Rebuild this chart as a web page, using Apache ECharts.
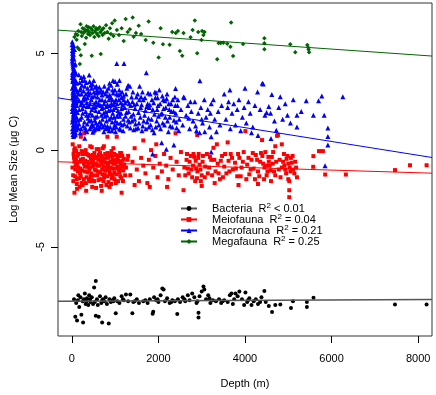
<!DOCTYPE html>
<html>
<head>
<meta charset="utf-8">
<script src="https://cdn.jsdelivr.net/npm/echarts@6/dist/echarts.min.js"></script>
<style>
  html, body { margin: 0; padding: 0; background: #fff; }
  #chart { width: 436px; height: 395px; }
</style>
</head>
<body>
<div id="chart"></div>
<script>
// groups and their fit statistics
const groups = ['Bacteria', 'Meiofauna', 'Macrofauna', 'Megafauna']
const r2Text = ['< 0.01', '= 0.04', '= 0.21', '= 0.25']
const colors = ['#000000', '#ff0000', '#0000ff', '#006400']
const symbols = ['circle', 'rect', 'triangle', 'diamond']

const xTicks = [0, 2000, 4000, 6000, 8000]
const yTicks = [-5, 0, 5]

// [depth (m), log mean size]
const bacteria = [
  [50,-7.7],[80,-8.6],[100,-7.9],[120,-8.8],[150,-7.5],[170,-8.1],[200,-7.6],[220,-8.5],[250,-7.8],[260,-8.9],
  [300,-7.4],[320,-7.95],[350,-7.65],[380,-8.0],[400,-7.5],[430,-7.85],[460,-7.6],[490,-7.95],[514,-7.09],[553,-6.76],
  [553,-8.55],[580,-7.7],[600,-8.0],[620,-8.6],[650,-7.55],[680,-7.9],[700,-8.9],[720,-7.7],[750,-7.8],[780,-7.6],
  [810,-7.95],[853,-8.95],[870,-7.7],[900,-7.85],[940,-7.75],[980,-7.65],[1014,-8.43],[1050,-7.8],[1100,-7.9],[1150,-7.55],
  [1200,-7.75],[1250,-7.45],[1300,-7.8],[1350,-7.45],[1398,-8.43],[1420,-7.85],[1500,-7.7],[1550,-7.9],[1650,-7.8],[1750,-7.9],
  [1800,-7.7],[1866,-8.45],[1880,-8.35],[1900,-7.6],[1950,-7.75],[2000,-7.85],[2050,-7.5],[2090,-7.15],[2120,-7.2],[2150,-7.8],
  [2200,-7.65],[2260,-7.9],[2320,-7.75],[2380,-7.8],[2435,-8.47],[2450,-7.7],[2500,-7.85],[2560,-7.6],[2620,-7.8],[2680,-7.5],
  [2720,-7.75],[2780,-7.4],[2830,-7.6],[2880,-7.9],[2926,-8.4],[2926,-8.65],[2950,-7.55],[3000,-7.3],[3041,-7.04],[3060,-7.2],
  [3100,-7.7],[3150,-7.5],[3200,-7.9],[3260,-7.75],[3330,-7.8],[3400,-7.7],[3450,-7.9],[3520,-7.75],[3600,-7.85],[3650,-7.5],
  [3687,-7.41],[3720,-7.95],[3780,-7.4],[3830,-7.55],[3870,-7.3],[3930,-7.7],[3980,-8.0],[4010,-7.35],[4050,-7.85],[4100,-7.65],
  [4150,-8.0],[4200,-7.8],[4250,-7.7],[4300,-7.95],[4380,-7.6],[4447,-7.28],[4480,-7.85],[4550,-8.05],[4625,-8.36],[4700,-8.0],
  [4816,-7.97],[5062,-8.16],[5108,-7.8],[5430,-8.1],[5430,-7.85],[5583,-7.62],[7465,-7.97],[8195,-7.97],
  [140,-7.75],[280,-7.7],[340,-7.8],[420,-7.7],[530,-7.85],[700,-7.75],[960,-7.8],[1180,-7.7],[1450,-7.8],[1700,-7.75],
  [1980,-7.7],[2300,-7.85],[2600,-7.7],[2900,-7.8],[3180,-7.65],[3480,-7.8],[3750,-7.7],[4070,-7.75],[4350,-7.85]
]

const meiofauna = [
  [20,0.3],[40,-0.2],[60,-0.6],[80,-1.0],[30,-1.3],[50,-0.4],[70,0.1],[90,-0.8],[110,-1.5],[130,-0.3],
  [150,-0.9],[170,0.2],[190,-1.2],[210,-0.5],[230,-1.7],[246,-1.81],[260,-0.1],[280,-0.7],[300,-1.1],[320,0.0],
  [340,-1.4],[360,-0.6],[380,-0.25],[400,-1.0],[420,-1.6],[440,-0.45],[460,0.15],[480,-0.85],[500,-1.3],[520,-0.15],
  [540,-0.7],[560,-1.95],[580,-0.35],[600,-1.1],[620,0.05],[640,-0.8],[660,-1.5],[680,-0.3],[700,-1.0],[720,-0.55],
  [740,0.2],[760,-1.25],[780,-0.65],[800,-1.8],[822,0.69],[840,-0.4],[860,-1.05],[880,-0.2],[900,-0.9],[920,-1.45],
  [940,-0.5],[960,0.1],[980,-1.15],[1000,-0.7],[1014,-1.7],[1037,0.69],[1060,-0.35],[1080,-1.0],[1100,-0.6],[1120,-1.35],
  [1140,-0.15],[1160,-0.85],[1180,-1.6],[1200,-0.45],[207,0.69],[284,0.87],[100,-0.05],[140,-1.1],[200,-0.95],[240,-0.2],
  [310,-0.55],[350,-0.85],[410,-0.3],[450,-1.2],[490,-0.5],[530,-1.0],[570,-0.75],[610,-0.5],[650,-0.15],[690,-0.7],
  [730,-1.6],[770,-0.2],[810,-0.9],[850,-0.65],[890,-1.25],[930,-0.3],[970,-0.55],[1010,-0.25],[1050,-0.85],[1090,-0.3],
  [1130,-0.75],[1170,-0.55],[60,-2.2],[120,-2.0],[180,-1.9],[330,-2.1],[470,-1.9],[690,-2.1],[870,-1.9],[1150,-2.2],
  [1250,-0.9],[1300,-0.3],[1350,-1.3],[1400,-0.6],[1450,0.1],[1500,-1.0],[1550,-1.6],[1600,-0.4],[1650,-0.8],[1700,-1.2],
  [1744,-1.7],[1780,-0.5],[1830,0.0],[1880,-0.9],[1930,-0.3],[1980,-1.4],[2030,-0.7],[2080,-1.1],[2130,-0.2],[2180,-0.8],
  [2230,-1.5],[2280,-0.4],[2330,-1.0],[2396,0.87],[2420,-0.6],[2470,-1.3],[2520,-0.1],[2580,-2.07],[2600,-0.9],[2650,-0.5],
  [2700,-1.2],[2750,-0.3],[2800,-0.8],[2850,-1.6],[2896,0.78],[2920,-0.4],[2970,-1.0],[3020,-0.6],[3070,-1.4],[3120,-0.2],
  [3170,-0.9],[3220,-0.5],[3272,0.12],[3320,-1.1],[3370,-0.7],[3420,-1.5],[3470,-0.3],[3520,-0.85],[3570,-1.2],[3620,-0.55],
  [3670,-0.2],[3720,-1.0],[3770,-0.65],[3820,-1.35],[3870,-0.4],[3920,-0.9],[3970,-0.1],[4009,0.98],[4050,-0.75],[4100,-1.25],
  [4150,-0.5],[4200,-0.95],[4250,-0.25],[4300,-1.1],[4350,-0.6],[4394,0.52],[4440,-1.5],[4490,-0.8],[4540,-0.35],[4590,-1.05],
  [4640,-0.7],[4700,-1.3],[4740,0.74],[4760,0.78],[4800,-0.5],[4850,-0.9],[4900,-0.2],[4950,-1.2],[5000,-0.7],[5023,-2.07],
  [5023,-2.43],[5023,-1.6],[5060,-0.4],[5110,-1.0],[5160,-0.6],[5200,-1.4],[5576,-0.86],[5580,-0.31],[5710,-0.05],[5800,-0.05],
  [5852,-1.26],[6330,-1.26],[7465,-1.03],[7811,-0.78],[8195,-0.78],
  [2760,-1.0],[2810,-0.2],[2860,-0.55],[2900,-1.1],[2950,-0.75],[3000,-1.3],[4400,-0.3],[4450,-0.9],[4500,-1.3],[4550,-0.6],
  [4600,-1.6],[4650,-0.1],[4910,-0.8],[4960,-0.45],[5000,-1.5],[5050,-1.1],[5100,-0.3],[4850,0.3],[4700,0.2],[3600,0.4],
  [3350,0.3],[1950,0.3],[1650,0.5],[1450,-1.8],[1800,-1.9],[2200,-1.9],[3000,-1.85],[3300,-1.7],[3850,-1.8],[4300,-1.75],
  [15,-0.9],[35,-1.6],[55,0.0],[75,-1.35],[95,-0.5],[115,-1.75],[125,-0.7],[145,-0.2],[165,-1.45],[185,-0.6],
  [205,-1.35],[225,-0.05],[235,-1.05],[255,-0.45],[275,-1.5],[295,-0.2],[305,-0.85],[325,-1.7],[345,-0.2],[365,-1.15],
  [385,-0.7],[395,-1.5],[415,-0.9],[425,0.2],[435,-1.35],[455,-0.65],[465,-1.55],[485,-0.25],[505,-0.75],[515,-1.6],
  [535,-0.4],[555,-1.05],[575,0.05],[585,-1.3],[595,-0.8],[615,-1.55],[625,-0.25],[645,-1.15],[665,-0.55],[675,-1.85],
  [695,-0.35],[705,-1.25],[715,0.1],[735,-0.85],[745,-1.4],[755,-0.45],[775,-1.05],[795,-0.35],[815,-1.35],[825,-0.15],
  [835,-0.75],[845,-1.65],[865,-0.3],[875,-1.2],[895,-0.6],[905,-1.75],[915,-0.05],[925,-0.95],[945,-1.3],[955,-0.7],
  [975,-0.2],[985,-1.5],[995,-0.95],[1025,-0.5],[1035,-1.25],[1065,-1.6],[1075,-0.55],[1095,-1.15],[1115,-0.15],[1125,-0.95],
  [1145,-1.45],[1165,-0.3],[1185,-1.05],[1210,-0.75],[1230,-1.3],[1280,-0.5],
  [2620,-1.3],[2660,-0.2],[2680,-0.95],[2720,-0.6],[2780,-1.4],[2830,-0.35],[2870,-0.95],[2890,-1.45],[2930,-0.2],[2980,-1.6],
  [3030,-0.3],[3080,-0.85],[3140,-1.2],[3190,-0.35],[3240,-1.3],[3290,-0.5],[3390,-1.2],[3440,-0.55],[3490,-1.4],[3540,-0.2],
  [3640,-1.1],[3700,-0.4],[3790,-0.95],[3840,-0.2],[3900,-1.35],[3950,-0.6],[4030,-1.5],[4080,-0.4],[4130,-1.0],[4180,-0.15],
  [4230,-1.5],[4280,-0.5],[4330,-1.35],[4370,-0.15],[4420,-0.7],[4470,-0.1],[4520,-1.1],[4570,-0.8],[4620,-0.35],[4670,-1.1],
  [4720,-0.6],[4780,-1.0],[4820,-1.4],[4880,-0.6],[4930,-1.0],[4980,-0.3],[5030,-0.9],[5080,-0.65],[5140,-1.2],[5180,-0.9]
]

const macrofauna = [
  [10,5.6],[20,5.3],[15,5.0],[30,4.8],[10,4.6],[25,4.4],[40,4.2],[15,4.0],[35,3.85],[55,3.7],
  [20,3.55],[45,3.4],[70,3.3],[10,3.2],[30,3.05],[60,2.9],[85,2.8],[15,2.7],[40,2.6],[75,2.5],
  [100,2.45],[25,2.35],[55,2.2],[90,2.1],[10,2.0],[45,1.9],[80,1.8],[110,1.7],[20,1.6],[60,1.5],
  [95,1.4],[30,1.3],[70,1.2],[15,1.1],[50,1.0],[85,0.9],[25,0.8],[40,0.7],[60,5.2],[50,4.7],
  [70,4.1],[90,3.6],[100,3.1],[120,2.75],[115,2.3],[130,1.95],[120,1.25],[105,1.05],[65,0.85],[35,4.95],
  [80,4.45],[95,3.95],[110,3.45],[125,3.0],[140,2.55],[135,1.55],[145,1.15],
  [5,5.45],[12,5.15],[22,4.9],[8,4.75],[18,4.5],[28,4.3],[38,4.05],[48,3.9],[12,3.75],[28,3.65],
  [62,3.5],[38,3.3],[80,3.15],[22,2.95],[50,2.75],[70,2.65],[95,2.55],[32,2.45],[65,2.3],[12,2.15],
  [82,2.0],[38,1.85],[100,1.95],[55,1.7],[75,1.55],[12,1.45],[88,1.3],[42,1.15],[105,1.2],[62,1.05],
  [18,0.95],[78,0.8],[52,0.75],[32,1.75],[45,2.05],[58,2.5],[28,2.85],[88,3.2],[45,3.55],[18,3.9],
  [65,4.4],[42,5.4],[28,5.1],
  [160,3.9],[180,3.5],[200,3.2],[220,2.9],[240,3.6],[260,2.6],[280,2.3],[300,3.3],[320,2.0],[340,1.8],
  [360,2.7],[380,3.0],[400,1.5],[420,2.4],[440,1.2],[460,2.1],[480,3.4],[500,1.0],[520,2.8],[540,1.7],
  [560,2.5],[580,3.1],[600,1.3],[170,2.1],[190,1.6],[210,1.1],[230,2.45],[250,1.9],[270,3.05],[290,1.45],
  [310,2.65],[330,1.05],[350,2.25],[370,1.65],[390,2.85],[410,3.55],[430,1.9],[450,2.6],[470,1.35],[490,2.2],
  [510,3.0],[530,1.55],[550,2.05],[570,1.15],[590,2.75],[165,1.35],[215,3.75],[275,3.8],[335,3.5],[455,3.2],
  [505,3.6],[565,3.3],[195,0.9],[345,0.95],[485,0.92],[300,0.62],[400,3.88],
  [155,2.9],[175,2.55],[185,3.1],[205,2.35],[225,1.7],[235,3.35],[245,2.15],[265,1.25],[285,2.75],[295,3.6],
  [305,1.15],[325,2.9],[345,2.45],[355,1.35],[365,3.2],[385,1.8],[395,2.25],[415,1.1],[425,2.95],[435,3.35],
  [445,1.55],[465,2.75],[475,1.8],[495,1.25],[515,2.4],[525,1.05],[535,3.25],[545,2.25],[555,1.4],[575,2.95],
  [585,1.75],[595,2.35],[605,3.0],[615,1.1],[625,2.0],[635,3.25],[645,2.6],[655,1.2],[665,2.3],[675,3.1],
  [685,1.35],[695,2.85],[705,1.6],[715,2.2],[725,3.0],[735,1.9],[745,2.4],[755,1.3],[765,1.75],[775,2.9],
  [785,1.1],[795,2.25],
  [620,2.4],[650,3.0],[680,1.8],[700,2.6],[720,1.2],[750,3.3],[780,2.0],[800,1.5],[830,2.8],[860,1.0],
  [880,2.3],[910,1.7],[940,3.1],[960,2.1],[990,1.3],[1020,2.6],[1050,3.4],[1080,1.9],[1100,1.1],[1130,2.45],
  [1160,3.0],[1190,1.6],[1220,2.2],[1250,2.9],[1280,1.25],[1310,2.0],[1340,3.3],[1370,1.75],[1400,2.5],[1430,1.05],
  [1460,2.15],[1490,2.75],[640,1.45],[690,2.15],[740,0.95],[770,2.55],[820,1.25],[850,2.05],[900,2.7],[930,1.45],
  [970,2.35],[1010,0.95],[1040,1.75],[1070,2.85],[1120,1.4],[1150,2.15],[1200,2.6],[1240,1.75],[1290,2.55],[1330,1.45],
  [1360,2.3],[1420,1.85],[1470,1.35],[1037,4.48],[1205,4.48],[1100,3.6],[1000,3.55],[870,3.45],[950,3.6],[1300,3.35],
  [805,3.05],[815,1.8],[825,2.35],[835,1.15],[845,3.2],[855,2.6],[865,1.6],[875,2.85],[885,1.2],[895,2.1],
  [905,3.35],[915,2.4],[925,1.0],[935,2.6],[945,1.9],[955,2.95],[965,1.15],[975,1.7],[985,2.5],[995,3.1],
  [1005,1.5],[1015,2.2],[1025,1.2],[1035,2.9],[1045,2.4],[1055,1.4],[1065,2.05],[1085,2.6],[1095,3.1],[1105,1.75],
  [1115,2.9],[1125,1.05],[1135,1.9],[1145,2.7],[1155,1.3],[1175,2.35],[1185,1.0],[1195,2.8],[1210,1.35],[1230,2.45],
  [1260,1.95],[1270,3.2],[1300,1.55],[1320,2.4],[1350,1.15],[1380,2.75],[1390,1.5],[1410,3.0],[1440,2.35],[1450,1.6],
  [1480,1.1],[1500,2.4],[1530,1.15],[1560,2.6],[1580,1.7],[1610,2.35],[1630,3.0],
  [1520,2.9],[1550,1.4],[1566,3.3],[1590,2.2],[1620,1.0],[1650,2.6],[1680,1.8],[1720,4.0],[1750,2.4],[1780,1.2],
  [1810,2.9],[1840,1.6],[1870,2.1],[1900,0.9],[1930,2.7],[1960,1.5],[1990,2.3],[2020,3.1],[2050,1.1],[2080,1.9],
  [2110,2.6],[2140,1.3],[2170,2.2],[2200,2.9],[2230,0.95],[2260,1.7],[2290,2.4],[2320,1.2],[2350,2.0],[2380,2.75],
  [2410,1.45],[2440,2.3],[2470,1.0],[1866,-0.2],[2074,0.38],[2182,0.05],[2357,0.26],[1600,2.75],[1700,2.05],[1800,2.35],
  [2000,1.75],[2150,2.55],[2250,2.1],[2400,1.9],[1540,1.95],[1640,1.25],[1740,1.45],[1950,2.95],
  [1660,1.5],[1690,2.7],[1710,1.1],[1730,2.25],[1760,2.95],[1770,1.65],[1790,2.2],[1820,1.3],[1850,2.6],[1860,1.05],
  [1890,2.45],[1910,1.85],[1920,3.0],[1940,1.2],[1970,2.1],[1980,2.7],[2010,1.3],[2040,2.4],[2060,1.85],[2090,2.8],
  [2100,1.4],[2120,2.15],[2160,1.7],[2190,2.65],[2210,1.5],[2240,2.4],[2270,1.25],[2300,2.0],[2330,2.6],[2360,1.55],
  [2390,2.3],[2420,1.15],[2450,2.6],[2480,1.6],
  [2520,2.1],[2560,1.3],[2600,2.7],[2640,1.8],[2680,2.3],[2720,1.1],[2760,2.0],[2800,1.5],[2840,2.5],[2880,1.0],
  [2920,1.9],[2957,3.58],[2980,2.2],[3020,1.4],[3060,2.6],[3100,1.7],[3140,2.1],[3180,1.2],[3220,2.4],[3270,2.6],
  [3300,1.6],[3340,0.95],[3380,2.0],[3420,1.3],[3460,2.3],[2396,3.19],[2580,2.75],[2700,1.65],[2740,2.5],[2860,1.25],
  [2950,0.9],[3000,1.6],[3070,0.95],[3200,1.9],[3219,0.69],[3219,-0.09],
  [3520,2.9],[3560,1.6],[3600,2.2],[3620,2.5],[3660,1.1],[3700,1.9],[3740,2.4],[3780,1.3],[3820,2.1],[3860,2.6],
  [3900,1.0],[3940,1.7],[3980,2.2],[4030,1.4],[4080,2.5],[4120,1.9],[4180,1.2],[4230,2.3],[4290,3.0],[4350,2.1],
  [4400,3.45],[4420,3.41],[4460,1.8],[4500,1.95],[4550,2.25],[4590,1.9],[4620,2.88],[4680,1.5],[4723,1.03],[4780,2.2],
  [4815,2.76],[4870,1.6],[4930,2.4],[4980,1.8],[5050,1.4],[5115,2.6],[5200,1.8],[5200,1.2],[5300,2.0],[5415,2.55],
  [5580,1.8],[5700,2.55],[5775,2.8],[5830,1.8],[5850,-0.81],[5915,1.14],[5915,0.7],[5915,0.26],[6260,2.76],[4000,3.2],
  [3650,3.1],[4150,0.9],[4300,0.75],[4600,0.6]
]

const megafauna = [
  [60,5.85],[90,6.0],[110,5.7],[130,5.95],[150,6.15],[170,5.2],[200,6.5],[215,6.1],[230,5.9],[250,6.3],
  [270,6.05],[290,6.25],[310,6.15],[330,5.8],[340,6.4],[360,6.2],[375,6.0],[390,6.35],[400,6.1],[420,5.95],
  [440,6.3],[460,4.88],[470,6.2],[480,6.05],[500,6.4],[520,5.85],[540,6.15],[560,6.3],[580,6.0],[600,6.25],
  [620,5.9],[640,6.35],[660,6.1],[668,4.97],[690,6.2],[710,5.95],[730,6.3],[760,6.05],[790,6.45],[820,6.1],
  [850,5.75],[880,6.3],[900,6.0],[930,6.55],[960,5.9],[990,6.69],[1040,6.2],[1090,5.95],[1150,6.3],[1198,5.64],
  [1244,6.78],[1290,6.1],[1340,6.25],[1405,6.85],[1429,5.86],[1480,6.05],[1544,6.42],[1600,6.0],[1705,5.69],[1774,6.64],
  [1882,5.55],[2005,4.78],[2051,6.29],[2104,5.47],[2258,5.44],[2320,6.1],[2400,6.05],[2450,6.15],[2495,5.12],[2550,4.88],
  [2580,6.05],[2742,5.83],[2790,6.2],[2841,6.69],[2896,5.0],[2920,6.1],[2995,5.69],[3010,6.15],[3040,5.95],[3065,6.1],
  [3357,4.69],[3390,5.53],[3440,5.53],[3500,5.55],[3590,5.5],[3663,5.34],[3680,6.59],[3726,4.86],[3956,5.48],[4447,5.78],
  [4447,5.52],[4447,5.21],[5046,5.47],[5161,5.05],[5440,5.43],[5460,5.3],[5470,5.2],[5480,5.05],
  [207,4.9],[184,4.45],[300,5.48],[130,5.3]
]

// fitted lines, [depth, value] at the plot edges
const fitBacteria = [[-320, -7.80], [8320, -7.72]]
const fitMeiofauna = [[-320, -0.60], [8320, -1.19]]
const fitMacrofauna = [[-320, 2.70], [8320, -0.38]]
const fitMegafauna = [[-320, 6.20], [8320, 4.86]]

const points = [bacteria, meiofauna, macrofauna, megafauna]
const fits = [fitBacteria, fitMeiofauna, fitMacrofauna, fitMegafauna]
const sizes = [4, 4, 5, 4.5]

const font = 'Liberation Sans, Arial, sans-serif'
const chart = echarts.init(document.getElementById('chart'))

const series = []
groups.forEach((g, i) => {
  series.push({
    name: g + ' points',
    type: 'scatter',
    data: points[i],
    symbol: symbols[i],
    symbolSize: sizes[i],
    itemStyle: { color: colors[i], opacity: 1 },
    silent: true
  })
})
groups.forEach((g, i) => {
  series.push({
    name: g,
    type: 'line',
    data: fits[i],
    symbol: symbols[i],
    symbolSize: sizes[i] + 1,
    showSymbol: false,
    lineStyle: { color: i === 0 ? '#555' : colors[i], width: i === 0 ? 1.5 : 1 },
    itemStyle: { color: colors[i] },
    silent: true,
    z: 3
  })
})

chart.setOption({
  animation: false,
  textStyle: { fontFamily: font },
  grid: {
    left: 57, top: 3, right: 4, bottom: 59,
    show: true, borderColor: '#333', borderWidth: 1
  },
  legend: {
    data: groups,
    orient: 'vertical',
    left: 175,
    top: 197,
    itemWidth: 16,
    itemHeight: 6,
    itemGap: -1,
    selectedMode: false,
    formatter: name => name + '  R{sup|2}' + ' ' + r2Text[groups.indexOf(name)],
    textStyle: {
      fontFamily: font,
      fontSize: 11,
      color: '#000',
      lineHeight: 11,
      padding: [0, 0, 0, 10],
      rich: {
        sup: { fontSize: 8, fontFamily: font, color: '#000', padding: [0, 0, 5, 0] }
      }
    }
  },
  xAxis: {
    type: 'value',
    min: -320,
    max: 8320,
    name: 'Depth (m)',
    nameLocation: 'middle',
    nameGap: 42,
    nameTextStyle: { fontSize: 11, color: '#000', fontFamily: font },
    axisLine: { show: false, onZero: false },
    splitLine: { show: false },
    axisTick: { show: true, inside: false, length: 7, customValues: xTicks, lineStyle: { color: '#000' } },
    axisLabel: {
      customValues: xTicks, margin: 17, fontSize: 11, color: '#000', fontFamily: font,
      formatter: v => String(v)
    }
  },
  yAxis: {
    type: 'value',
    min: -9.6,
    max: 7.6,
    name: 'Log Mean Size (μg C)',
    nameLocation: 'middle',
    nameGap: 39,
    nameTextStyle: { fontSize: 11, color: '#000', fontFamily: font },
    axisLine: { show: false, onZero: false },
    splitLine: { show: false },
    axisTick: { show: true, inside: false, length: 7, customValues: yTicks, lineStyle: { color: '#000' } },
    axisLabel: {
      customValues: yTicks, rotate: 90, margin: 12, fontSize: 11, color: '#000', fontFamily: font,
      formatter: v => String(v)
    }
  },
  series: series
})
</script>
</body>
</html>
